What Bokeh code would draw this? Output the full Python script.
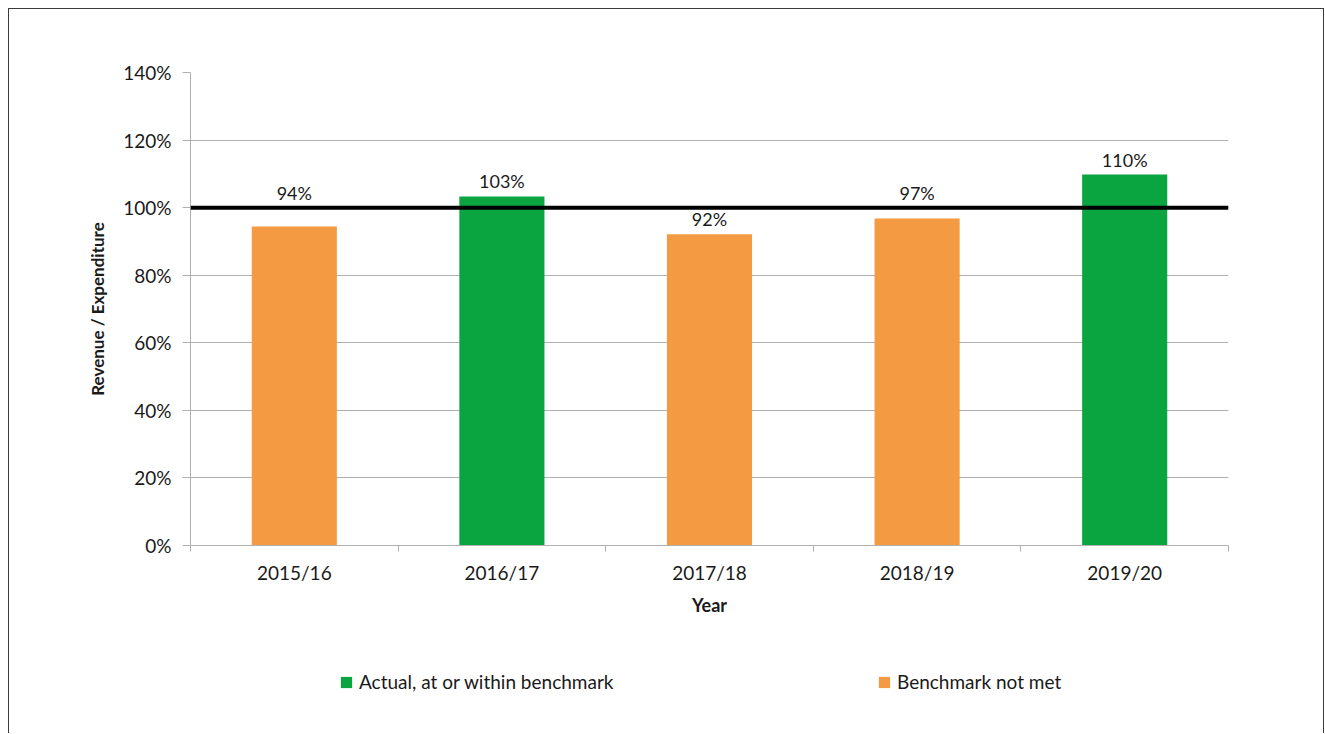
from bokeh.plotting import figure
from bokeh.layouts import column
from bokeh.models import (Range1d, FixedTicker, NumeralTickFormatter, Span, Legend,
                          LegendItem, ColumnDataSource)
from bokeh.core.properties import value
from bokeh.embed import file_html
from bokeh.resources import INLINE

# ---- data ----
years = ["2015/16", "2016/17", "2017/18", "2018/19", "2019/20"]
ratios = [0.944, 1.033, 0.921, 0.968, 1.098]
benchmark = 1.0
y_ticks = [0, 0.2, 0.4, 0.6, 0.8, 1.0, 1.2, 1.4]
met_label = "Actual, at or within benchmark"
notmet_label = "Benchmark not met"

FONT = "Lato"
GREEN = "#0AA540"
ORANGE = "#F49A42"
GRAY = "#B0B0B0"
TXT = "#1A1A1A"

n = len(years)
xs = [i + 0.5 for i in range(n)]

met = dict(x=[], top=[])
notmet = dict(x=[], top=[])
for x, v in zip(xs, ratios):
    d = met if v >= benchmark else notmet
    d["x"].append(x)
    d["top"].append(v)
met_src = ColumnDataSource(met)
notmet_src = ColumnDataSource(notmet)

# label anchors: lift labels that would collide with the benchmark line
lab_y = [v if (v >= benchmark or v < benchmark - 0.06) else benchmark for v in ratios]
lab_txt = [f"{round(v * 100)}%" for v in ratios]

W = 1314
p = figure(width=W, height=611, output_backend="svg", toolbar_location=None,
           x_range=Range1d(0, n), y_range=Range1d(0, 1.4),
           min_border_left=181, min_border_top=63, min_border_right=95, min_border_bottom=75)
p.outline_line_color = None
p.background_fill_color = "white"
p.border_fill_color = "white"

# grid
p.xgrid.visible = False
p.ygrid.grid_line_color = GRAY
p.ygrid.grid_line_width = 1

# y axis
ya = p.yaxis[0]
ya.ticker = FixedTicker(ticks=y_ticks)
ya.formatter = NumeralTickFormatter(format="0%")
ya.axis_line_color = GRAY
ya.major_tick_line_color = GRAY
ya.major_tick_out = 8
ya.major_tick_in = 0
ya.minor_tick_line_color = None
ya.major_label_text_font = FONT
ya.major_label_text_font_size = "19px"
ya.major_label_text_color = TXT
ya.major_label_standoff = 11
ya.axis_label = "Revenue / Expenditure"
ya.axis_label_text_font = FONT
ya.axis_label_text_font_size = "17px"
ya.axis_label_text_font_style = "bold"
ya.axis_label_text_color = TXT
ya.axis_label_standoff = 12

# x axis: labels at category centres, ticks at category boundaries
xa = p.xaxis[0]
xa.ticker = FixedTicker(ticks=xs, minor_ticks=list(range(n + 1)))
xa.major_label_overrides = {x: y for x, y in zip(xs, years)}
xa.axis_line_color = GRAY
xa.major_tick_line_color = None
xa.major_tick_out = 6
xa.major_tick_in = 0
xa.minor_tick_line_color = GRAY
xa.minor_tick_out = 6
xa.minor_tick_in = 0
xa.major_label_text_font = FONT
xa.major_label_text_font_size = "19px"
xa.major_label_text_color = TXT
xa.major_label_standoff = 9
xa.axis_label = "Year"
xa.axis_label_text_font = FONT
xa.axis_label_text_font_size = "18px"
xa.axis_label_text_font_style = "bold"
xa.axis_label_text_color = TXT
xa.axis_label_standoff = 7

bar_w = 0.41
p.vbar(x="x", top="top", width=bar_w, bottom=0, source=met_src,
       fill_color=GREEN, line_color=None)
p.vbar(x="x", top="top", width=bar_w, bottom=0, source=notmet_src,
       fill_color=ORANGE, line_color=None)

p.add_layout(Span(location=benchmark, dimension="width", line_color="black", line_width=4))

p.text(x=xs, y=lab_y, text=lab_txt, text_align="center", text_baseline="middle",
       y_offset=-15, text_font=value(FONT), text_font_size="18px", text_color=TXT)

# ---- legend strip below the chart (bars drawn out of its visible range) ----
q = figure(width=W, height=113, output_backend="svg", toolbar_location=None,
           x_range=Range1d(0, n), y_range=Range1d(5, 6),
           x_axis_location=None, y_axis_location=None, min_border=0)
q.grid.visible = False
q.outline_line_color = None
q.background_fill_color = "white"
q.border_fill_color = "white"
lg_met = q.vbar(x="x", top="top", width=bar_w, bottom=0, source=met_src,
                fill_color=GREEN, line_color=None)
lg_not = q.vbar(x="x", top="top", width=bar_w, bottom=0, source=notmet_src,
                fill_color=ORANGE, line_color=None)

legend = Legend(items=[LegendItem(label=met_label, renderers=[lg_met]),
                       LegendItem(label=notmet_label, renderers=[lg_not])],
                orientation="horizontal", location=(149, 40),
                glyph_width=14, glyph_height=14, label_standoff=6, label_width=518,
                spacing=0, padding=0, margin=0,
                border_line_color=None, background_fill_alpha=0,
                label_text_font=FONT, label_text_font_size="19px", label_text_color=TXT)
q.add_layout(legend, "center")

layout = column(p, q, spacing=0)
layout.styles = {"border": "1px solid #3C3C3C", "border-bottom": "none",
                 "margin-left": "8px", "margin-top": "8px"}

open("out.html", "w").write(file_html(layout, INLINE))
